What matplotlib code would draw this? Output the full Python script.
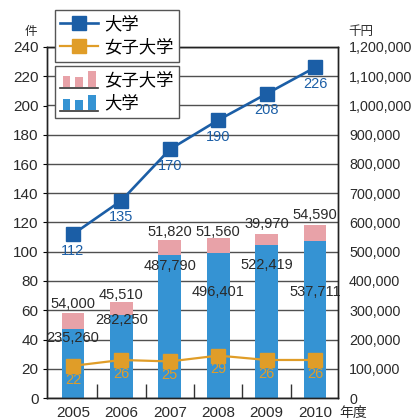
import matplotlib
matplotlib.use("Agg")
import matplotlib.pyplot as plt
from matplotlib.legend_handler import HandlerBase
from matplotlib.patches import Rectangle, Patch
from matplotlib.lines import Line2D
from matplotlib.ticker import FuncFormatter, FixedLocator

plt.rcParams['font.family'] = ['Liberation Sans', 'Noto Sans CJK JP']

# --- data ---------------------------------------------------------------
years = ["2005", "2006", "2007", "2008", "2009", "2010"]
univ_count = [112, 135, 170, 190, 208, 226]          # 大学 (件)
women_count = [22, 26, 25, 29, 26, 26]               # 女子大学 (件)
univ_amount = [235260, 282250, 487790, 496401, 522419, 537711]   # 大学 (千円)
women_amount = [54000, 45510, 51820, 51560, 39970, 54590]        # 女子大学 (千円)
left_ticks = list(range(0, 241, 20))
right_ticks = list(range(0, 1200001, 100000))

# --- label placement (offset in points) -----------------------------------
univ_label_dy = [-6, -3, -8, -28, -14, -37]
women_label_dy = [7, 5, 6, 4, 7, 7]

# --- colours --------------------------------------------------------------
BG = "#e2f3e2"
BLUE_BAR = "#3593d3"
PINK_BAR = "#e8a2a8"
BLUE_LINE = "#1b5ea6"
ORANGE = "#e09d28"
GRID = "#505050"
TXT = "#2a2a2a"

W, H = 417, 419
fig = plt.figure(figsize=(W / 100, H / 100), dpi=100)
fig.patch.set_facecolor("white")

def fx(px):
    return px / W

def fy(py):
    return 1 - py / H

axL = fig.add_axes([fx(47), fy(398), fx(338) - fx(47), fy(47) - fy(398)])
axR = axL.twinx()

x = list(range(len(years)))
bw = 0.47

# bars on the right (千円) axis
axR.set_facecolor(BG)
axR.bar(x, univ_amount, width=bw, color=BLUE_BAR, zorder=2)
axR.bar(x, women_amount, width=bw, bottom=univ_amount, color=PINK_BAR, zorder=2)
axR.set_ylim(0, 1200000)
axR.yaxis.set_major_locator(FixedLocator(right_ticks))
axR.yaxis.set_major_formatter(FuncFormatter(lambda v, p: f"{int(v):,}"))
axR.grid(axis="y", color=GRID, lw=1.0, zorder=1)
axR.set_axisbelow(True)
axR.tick_params(axis="y", length=0, pad=8, labelsize=10.3, labelcolor=TXT)

for i in x:
    top_blue = univ_amount[i]
    top_all = univ_amount[i] + women_amount[i]
    axR.annotate(f"{univ_amount[i]:,}", (i, top_blue), xytext=(0, univ_label_dy[i]),
                 textcoords="offset points", ha="center", va="center",
                 fontsize=10.5, color=TXT, zorder=6)
    axR.annotate(f"{women_amount[i]:,}", (i, top_all), xytext=(0, women_label_dy[i]),
                 textcoords="offset points", ha="center", va="center",
                 fontsize=10.5, color=TXT, zorder=6)

# lines on the left (件) axis, drawn above the bars
axL.set_zorder(axR.get_zorder() + 1)
axL.patch.set_visible(False)
axL.plot(x, univ_count, color=BLUE_LINE, lw=1.9, marker="s", ms=10.5,
         mfc=BLUE_LINE, mec=BLUE_LINE, zorder=4)
axL.plot(x, women_count, color=ORANGE, lw=1.6, marker="s", ms=10.5,
         mfc=ORANGE, mec=ORANGE, zorder=4)
for i in x:
    axL.annotate(str(univ_count[i]), (i, univ_count[i]), xytext=(0, -12),
                 textcoords="offset points", ha="center", va="center",
                 fontsize=10.5, color=BLUE_LINE)
    axL.annotate(str(women_count[i]), (i, women_count[i]), xytext=(0, -10),
                 textcoords="offset points", ha="center", va="center",
                 fontsize=10.5, color=ORANGE)

axL.set_ylim(0, 240)
axL.set_xlim(-0.537, 5.475)
axL.yaxis.set_major_locator(FixedLocator(left_ticks))
axL.tick_params(axis="y", length=3, pad=3, labelsize=11, labelcolor=TXT)
axL.set_xticks(x)
axL.set_xticklabels(years)
axL.tick_params(axis="x", length=0, pad=6, labelsize=11, labelcolor=TXT)
axL.set_xticks([i + 0.5 for i in x[:-1]], minor=True)
axL.tick_params(axis="x", which="minor", direction="in", length=10, width=1, color="#333")

for a in (axL, axR):
    for s in a.spines.values():
        s.set_color("#222")
        s.set_linewidth(1.0)

# unit captions
fig.text(fx(31), fy(32), "件", fontsize=9, ha="center", va="center", color=TXT,
         family="Noto Sans CJK JP")
fig.text(fx(361), fy(32), "千円", fontsize=9, ha="center", va="center", color=TXT,
         family="Noto Sans CJK JP")
fig.text(fx(353), fy(413), "年度", fontsize=10, ha="center", va="center", color=TXT,
         family="Noto Sans CJK JP")


class BarIconHandler(HandlerBase):
    def create_artists(self, legend, orig_handle, xdescent, ydescent,
                       width, height, fontsize, trans):
        color = orig_handle.get_facecolor()
        x0 = -xdescent
        y0 = -ydescent - 0.2 * height
        arts = []
        specs = [(0.06, 0.70), (0.40, 0.62), (0.74, 1.0)]
        for xs, hf in specs:
            r = Rectangle((x0 + xs * width, y0 + 0.08 * height), 0.2 * width,
                          hf * height * 1.25,
                          facecolor=color, edgecolor="none", transform=trans)
            arts.append(r)
        base = Line2D([x0, x0 + width], [y0, y0], color="#333", lw=1.2, transform=trans)
        arts.append(base)
        return arts


leg_font = {"family": "Noto Sans CJK JP", "size": 12.5}

line_handles = [
    Line2D([], [], color=BLUE_LINE, lw=1.9, marker="s", ms=9.5, mfc=BLUE_LINE, mec=BLUE_LINE),
    Line2D([], [], color=ORANGE, lw=1.6, marker="s", ms=9.5, mfc=ORANGE, mec=ORANGE),
]
leg1 = fig.legend(line_handles, ["大学", "女子大学"], loc="upper left",
                  bbox_to_anchor=(fx(55), fy(10)), borderaxespad=0, prop=leg_font,
                  frameon=True, fancybox=False, edgecolor="#555", framealpha=1,
                  handlelength=2.2, handletextpad=0.35, labelspacing=0.3,
                  borderpad=0.3)
leg1.get_frame().set_linewidth(1.0)

bar_handles = [Patch(facecolor=PINK_BAR), Patch(facecolor=BLUE_BAR)]
leg2 = fig.legend(bar_handles, ["女子大学", "大学"], loc="upper left",
                  bbox_to_anchor=(fx(55), fy(66)), borderaxespad=0, prop=leg_font,
                  frameon=True, fancybox=False, edgecolor="#555", framealpha=1,
                  handlelength=2.2, handletextpad=0.35, labelspacing=0.3,
                  borderpad=0.3, handler_map={Patch: BarIconHandler()})
leg2.get_frame().set_linewidth(1.0)

fig.savefig("out.png", dpi=100, facecolor="white")
